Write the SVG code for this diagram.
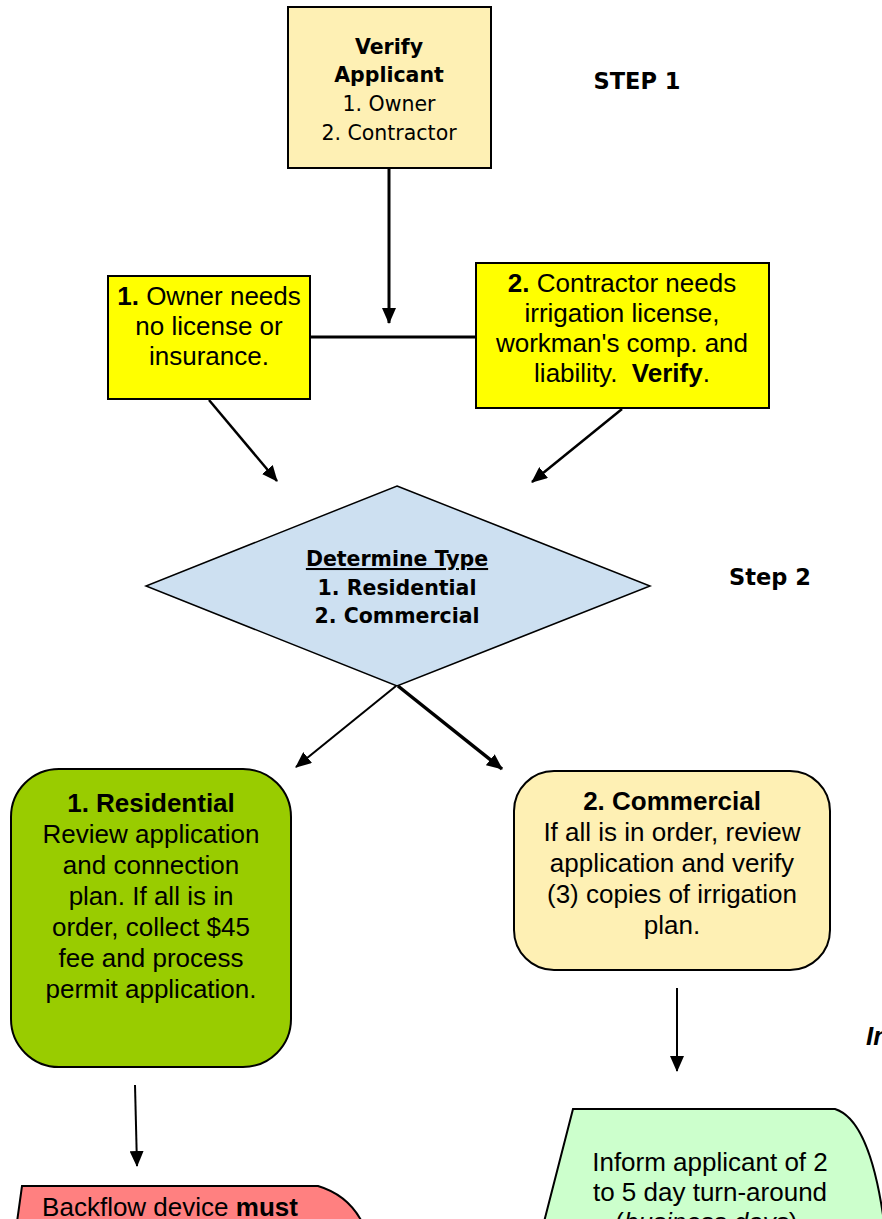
<svg xmlns="http://www.w3.org/2000/svg" width="882" height="1219" viewBox="0 0 882 1219">
<defs>
<marker id="ah" markerUnits="userSpaceOnUse" markerWidth="16" markerHeight="14" refX="15" refY="7" orient="auto">
<path d="M0,0 L16,7 L0,14 Z" fill="#000"/>
</marker>
<style>
.t{font-family:"Liberation Sans",Arial,sans-serif;font-size:26px;fill:#000;text-anchor:middle}
.v{font-family:"DejaVu Sans",Verdana,sans-serif;fill:#000;text-anchor:middle}
.b{font-weight:bold}
.box{stroke:#000;stroke-width:2}
.c{stroke:#000;fill:none}
</style>
</defs>
<rect width="882" height="1219" fill="#fff"/>

<g id="connectors">
<line class="c" x1="389" y1="169" x2="389" y2="323" stroke-width="3" marker-end="url(#ah)"/>
<line class="c" x1="310" y1="337" x2="476" y2="337" stroke-width="3"/>
<line class="c" x1="209" y1="400" x2="277" y2="481" stroke-width="2.5" marker-end="url(#ah)"/>
<line class="c" x1="622" y1="409" x2="532" y2="482" stroke-width="2.5" marker-end="url(#ah)"/>
<line class="c" x1="396" y1="686" x2="296" y2="767" stroke-width="2" marker-end="url(#ah)"/>
<line class="c" x1="398" y1="686" x2="502" y2="769" stroke-width="3.5" marker-end="url(#ah)"/>
<line class="c" x1="677" y1="988" x2="677" y2="1071" stroke-width="2" marker-end="url(#ah)"/>
<line class="c" x1="135" y1="1085" x2="137" y2="1166" stroke-width="2" marker-end="url(#ah)"/>
</g>

<g id="verify">
<rect class="box" x="288" y="7" width="203" height="161" fill="#FEF0B4"/>
<text class="v b" x="389" y="54" font-size="20.5">Verify</text>
<text class="v b" x="389" y="82" font-size="20.5">Applicant</text>
<text class="v" x="389" y="111" font-size="20.5">1. Owner</text>
<text class="v" x="389" y="140" font-size="20.5">2. Contractor</text>
</g>

<g id="step1">
<text class="v b" x="637" y="89" font-size="22.5">STEP 1</text>
</g>

<g id="owner">
<rect class="box" x="108" y="276" width="202" height="123" fill="#FFFF00"/>
<text class="t" x="209" y="305"><tspan class="b">1.</tspan> Owner needs</text>
<text class="t" x="209" y="335">no license or</text>
<text class="t" x="209" y="365">insurance.</text>
</g>

<g id="contractor">
<rect class="box" x="476" y="263" width="293" height="145" fill="#FFFF00"/>
<text class="t" x="622" y="292"><tspan class="b">2.</tspan> Contractor needs</text>
<text class="t" x="622" y="322">irrigation license,</text>
<text class="t" x="622" y="352">workman's comp. and</text>
<text class="t" x="622" y="382" xml:space="preserve">liability.  <tspan class="b">Verify</tspan>.</text>
</g>

<g id="determine">
<polygon points="397,486 650,586 397,686 146,586" fill="#CDE0F1" stroke="#000" stroke-width="1.5"/>
<text class="v b" x="397" y="566" font-size="20.5" text-decoration="underline">Determine Type</text>
<text class="v b" x="397" y="595" font-size="20.5">1. Residential</text>
<text class="v b" x="397" y="623" font-size="20.5">2. Commercial</text>
</g>

<g id="step2">
<text class="v b" x="770" y="585" font-size="22.5">Step 2</text>
</g>

<g id="residential">
<rect class="box" x="11" y="769" width="280" height="298" rx="48" ry="48" fill="#99CC00"/>
<text class="t b" x="151" y="812">1. Residential</text>
<text class="t" x="151" y="843">Review application</text>
<text class="t" x="151" y="874">and connection</text>
<text class="t" x="151" y="905">plan. If all is in</text>
<text class="t" x="151" y="936">order, collect $45</text>
<text class="t" x="151" y="967">fee and process</text>
<text class="t" x="151" y="998">permit application.</text>
</g>

<g id="commercial">
<rect class="box" x="514" y="771" width="316" height="199" rx="40" ry="40" fill="#FEF0B4"/>
<text class="t b" x="672" y="810">2. Commercial</text>
<text class="t" x="672" y="841">If all is in order, review</text>
<text class="t" x="672" y="872">application and verify</text>
<text class="t" x="672" y="903">(3) copies of irrigation</text>
<text class="t" x="672" y="934">plan.</text>
</g>

<g id="partial-label">
<text class="t b" x="866" y="1045" style="font-style:italic;text-anchor:start">In</text>
</g>

<g id="inform">
<path class="box" d="M544,1222 L573,1109 L835,1109 Q870,1120 884,1222 Z" fill="#CCFFCC"/>
<text class="t" x="710" y="1171">Inform applicant of 2</text>
<text class="t" x="710" y="1201">to 5 day turn-around</text>
<text class="t" x="710" y="1231">(<tspan font-style="italic">business days</tspan>).</text>
</g>

<g id="backflow">
<path class="box" d="M17,1222 L22,1186 L318,1186 Q348,1195 362,1222 Z" fill="#FF8080"/>
<text class="t" x="170" y="1216">Backflow device <tspan class="b">must</tspan></text>
</g>
</svg>
